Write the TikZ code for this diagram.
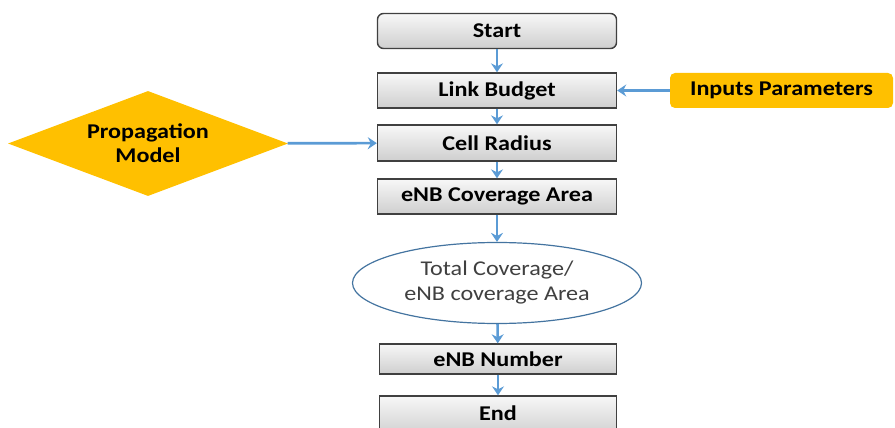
\documentclass[tikz,border=0pt]{standalone}
\usepackage{fontspec}
\setmainfont{Carlito}[FakeStretch=1.15]
\usetikzlibrary{shapes.geometric,arrows.meta}
\definecolor{flowblue}{HTML}{5B9BD5}
\definecolor{gold}{HTML}{FFC000}
\definecolor{edgegray}{HTML}{404040}
\tikzset{
  stepbox/.style={draw=edgegray, line width=1.4pt, top color=gray!6, bottom color=gray!38,
    minimum width=239pt, minimum height=#1, inner sep=0pt,
    font=\fontsize{21}{24}\selectfont\bfseries},
  stepbox/.default=35pt,
  flow/.style={draw=flowblue, line width=2.6pt, -{Stealth[length=9pt,width=12pt,inset=3pt]}},
}
\begin{document}
\begin{tikzpicture}[x=1pt,y=-1pt]
\useasboundingbox (0,0) rectangle (895,428);
\clip (0,0) rectangle (895,428);
% main column
\node[stepbox, rounded corners=6pt] (start) at (497,31) {Start};
\node[stepbox] (link) at (497,90.5) {Link Budget};
\node[stepbox, minimum height=36pt] (cell) at (497,143) {Cell Radius};
\node[stepbox] (cov) at (497,196.5) {eNB Coverage Area};
\node[ellipse, draw=flowblue!75!black, line width=1.2pt, fill=white,
  minimum width=289pt, minimum height=81pt, inner sep=0pt, align=center,
  text=edgegray, font=\fontsize{21}{25}\selectfont] (tot) at (497,283)
  {Total Coverage/\\eNB coverage Area};
\node[stepbox, minimum width=237pt, minimum height=30pt] (num) at (498,359) {eNB Number};
\node[stepbox, minimum width=237pt, minimum height=40pt] (end) at (498,416) {\raisebox{6pt}{End}};
% side inputs
\node[fill=gold, rounded corners=5pt, minimum width=223pt, minimum height=35pt, inner sep=0pt,
  font=\fontsize{21}{24}\selectfont\bfseries] (inp) at (781.5,90.5) {Inputs Parameters};
\node[diamond, fill=gold, minimum width=280pt, minimum height=105pt, inner sep=0pt, aspect=2.67,
  align=center, font=\fontsize{21}{24}\selectfont\bfseries] (prop) at (148,143.5)
  {Propagation\\Model};
% connectors
\draw[flow] (start) -- (link);
\draw[flow] (link) -- (cell);
\draw[flow] (cell) -- (cov);
\draw[flow] (cov) -- (tot);
\draw[flow] (tot) -- (num);
\draw[flow] (num) -- (end);
\draw[flow] (inp) -- (link);
\draw[flow] (prop) -- (cell);
\end{tikzpicture}
\end{document}
